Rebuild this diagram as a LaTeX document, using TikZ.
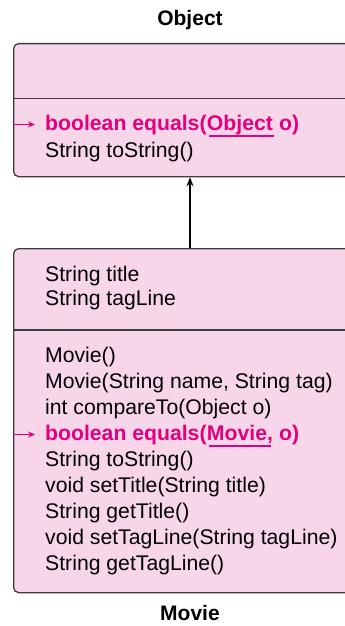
\documentclass[tikz,border=0pt]{standalone}
\usepackage{fontspec}
\setmainfont{Liberation Sans}
\usetikzlibrary{arrows.meta}
\definecolor{umlfill}{HTML}{F8D6EA}
\definecolor{umlline}{HTML}{3C3C3C}
\definecolor{hl}{HTML}{E4007C}
\tikzset{
 classbox/.style={draw=umlline, line width=1.3pt, fill=umlfill, rounded corners=5pt, inner sep=0pt, anchor=north west, minimum width=345pt},
 divider/.style={draw=umlline, line width=1.3pt},
 member/.style={inner sep=0pt, anchor=base west, font=\fontsize{21.2}{25}\selectfont, text=black},
 hlmember/.style={inner sep=0pt, anchor=base west, text=hl, font=\fontsize{21.2}{25}\selectfont\bfseries},
 classtitle/.style={inner sep=0pt, anchor=base, font=\fontsize{21}{25}\selectfont\bfseries},
 inherit/.style={line width=2pt, -{Stealth[length=9pt,width=7pt]}},
 hlarrow/.style={draw=hl, line width=1.2pt, -{Stealth[length=7pt,width=6pt]}},
 uline/.style={draw=hl, line width=1.2pt},
}
\begin{document}
\begin{tikzpicture}[x=1pt,y=-1pt]
\useasboundingbox (0,0) rectangle (345,626);
\clip (0,0) rectangle (345,626);
% titles
\node[classtitle] (objtitle) at (190,26) {Object};
\node[classtitle] (movtitle) at (190,620) {Movie};
% Object box
\node[classbox, minimum height=133pt] (objbox) at (13,43) {};
\draw[divider] (objbox.west |- 0,98.5) -- (objbox.east |- 0,98.5);
\node[hlmember] (oeqa) at (45,130) {boolean equals(};
\node[hlmember] (oeqb) at (oeqa.base east) {Object};
\node[hlmember] (oeqc) at (oeqb.base east) {\ o)};
\node[member] (otostr) at (45,157.5) {String toString()};
\draw[hlarrow] (objbox.west |- 0,124.5) -- (35,124.5);
\draw[uline] ([xshift=2pt,yshift=-6pt]oeqb.base west) -- ([xshift=1pt,yshift=-6pt]oeqb.base east);
% Movie box
\node[classbox, minimum height=344pt] (movbox) at (13,248) {};
\draw[divider] (movbox.west |- 0,330) -- (movbox.east |- 0,330);
\node[member] (mtitle) at (45,281) {String title};
\node[member] (mtag) at (45,305) {String tagLine};
\node[member] (mc1) at (45,362) {Movie()};
\node[member] (mc2) at (45,388) {Movie(String name, String tag)};
\node[member] (mcmp) at (45,414) {int compareTo(Object o)};
\node[hlmember] (meqa) at (45,440) {boolean equals(};
\node[hlmember] (meqb) at (meqa.base east) {Movie,};
\node[hlmember] (meqc) at (meqb.base east) {\ o)};
\node[member] (mtostr) at (45,466) {String toString()};
\node[member] (mset1) at (45,492) {void setTitle(String title)};
\node[member] (mget1) at (45,518) {String getTitle()};
\node[member] (mset2) at (45,544) {void setTagLine(String tagLine)};
\node[member] (mget2) at (45,570) {String getTagLine()};
\draw[hlarrow] (movbox.west |- 0,434.5) -- (35,434.5);
\draw[uline] ([xshift=2pt,yshift=-6pt]meqb.base west) -- ([xshift=-2pt,yshift=-6pt]meqb.base east);
% inheritance
\draw[inherit] (movbox.north -| objtitle) -- (objbox.south -| objtitle);
\end{tikzpicture}
\end{document}
